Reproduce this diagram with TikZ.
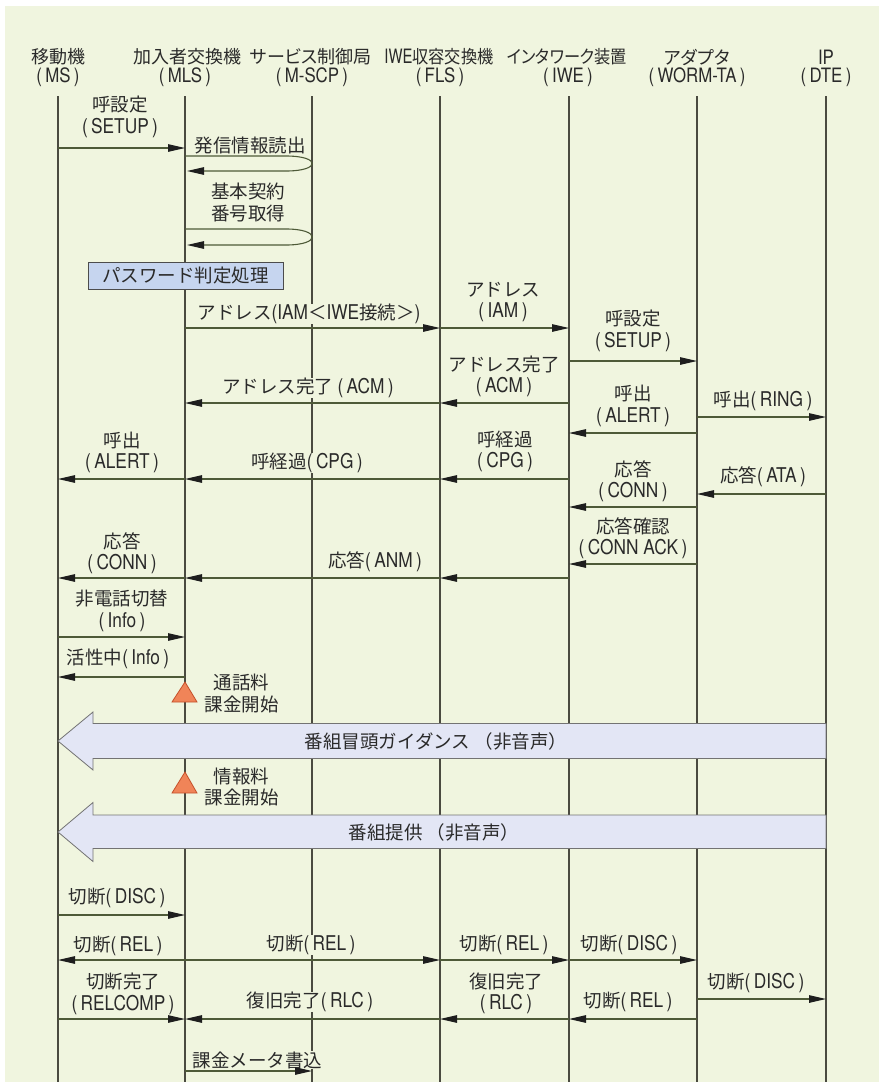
\documentclass[tikz,border=0pt]{standalone}
\usepackage{fontspec}
\setmainfont{Noto Sans CJK JP}
\newfontfamily\latf{TeX Gyre Heros}[Scale=1.1,FakeStretch=0.85]
\newfontfamily\latn{TeX Gyre Heros}[Scale=1.1,FakeStretch=0.75]
\newfontfamily\jpprop{Noto Sans CJK JP}[RawFeature=+palt]
\newfontfamily\jpnarrow{Noto Sans CJK JP}[FakeStretch=0.9,RawFeature=+palt]
\newcommand\lt[1]{{\latf #1}}
\newcommand\pa[1]{{\latf (\,#1\,)}}
\usetikzlibrary{arrows.meta}
\definecolor{bg}{HTML}{F0F5DF}
\definecolor{txt}{HTML}{2A2A2A}
\definecolor{lifec}{HTML}{4A4A40}
\definecolor{msgc}{HTML}{4E5A38}
\definecolor{headc}{HTML}{1E1E1E}
\definecolor{boxfill}{HTML}{C6D5EF}
\definecolor{bigfill}{HTML}{E3E6F5}
\definecolor{trifill}{HTML}{F08458}
\definecolor{tridraw}{HTML}{C4502A}
\begin{document}
\begin{tikzpicture}[x=1pt,y=-1pt,
  lbl/.style={font=\fontsize{18.5}{21.5}\selectfont, text=txt, fill=bg, inner sep=0.5pt, align=center},
  hdr/.style={font=\fontsize{18}{21}\selectfont, text=txt, inner sep=0.5pt},
  life/.style={draw=lifec, line width=1.1pt},
  msg/.style={draw=msgc, line width=1.1pt, -{Triangle[length=17pt,width=7.5pt,color=headc]}},
  bigarrow/.style={draw=black!55, line width=0.8pt, fill=bigfill},
  charge/.style={draw=tridraw, line width=0.8pt, fill=trifill},
  procbox/.style={draw=black!70, line width=1pt, fill=boxfill},
]
\useasboundingbox (0,0) rectangle (879,1085);
\fill[white] (0,0) rectangle (879,1085);
\fill[bg] (5,6) rectangle (879,1082);

% lifeline x positions
\coordinate (xMS) at (58,0);
\coordinate (xMLS) at (185,0);
\coordinate (xSCP) at (312,0);
\coordinate (xFLS) at (440,0);
\coordinate (xIWE) at (569,0);
\coordinate (xWTA) at (697,0);
\coordinate (xDTE) at (826,0);

% headers
\node[hdr] (h1a) at (58,57) {移動機};
\node[hdr] (h1b) at (58,77) {\pa{MS}};
\node[hdr] (h2a) at (187,57) {加入者交換機};
\node[hdr] (h2b) at (185,77) {\pa{MLS}};
\node[hdr] (h3a) at (311,57) {\jpprop サービス制御局};
\node[hdr] (h3b) at (312,77) {\pa{M-SCP}};
\node[hdr] (h4a) at (439,57) {{\latn IWE}\jpnarrow 収容交換機};
\node[hdr] (h4b) at (440,77) {\pa{FLS}};
\node[hdr] (h5a) at (567,57) {\jpnarrow インタワーク装置};
\node[hdr] (h5b) at (568,77) {\pa{IWE}};
\node[hdr] (h6a) at (697,57) {\jpprop アダプタ};
\node[hdr] (h6b) at (697,77) {\pa{WORM-TA}};
\node[hdr] (h7a) at (826,57) {\lt{IP}};
\node[hdr] (h7b) at (826,77) {\pa{DTE}};

% lifelines
\foreach \c in {xMS,xMLS,xSCP,xFLS,xIWE,xWTA,xDTE}
  \draw[life] (\c |- 0,96) -- (\c |- 0,1082);

% labels
\node[lbl] (m1) at (120,117) {呼設定\\\pa{SETUP}};
\node[lbl, anchor=west] (m2) at (194,146) {発信情報読出};
\node[lbl] (m3) at (248,202.5) {基本契約\\番号取得};
\node[lbl] (m5) at (309,314) {アドレス\lt{(IAM}＜\lt{IWE}接続＞\lt{)}};
\node[lbl] (m6) at (503,302) {アドレス\\\pa{IAM}};
\node[lbl] (m7) at (633,331) {呼設定\\\pa{SETUP}};
\node[lbl] (m8) at (504,376.5) {アドレス完了\\\pa{ACM}};
\node[lbl] (m9) at (308,388) {アドレス完了 \pa{ACM}};
\node[lbl] (m10) at (633,406) {呼出\\\pa{ALERT}};
\node[lbl] (m11) at (763,400.5) {呼出\pa{RING}};
\node[lbl] (m12) at (505,451.5) {呼経過\\\pa{CPG}};
\node[lbl] (m13) at (307,463) {呼経過\pa{CPG}};
\node[lbl] (m14) at (122,452.5) {呼出\\\pa{ALERT}};
\node[lbl] (m15) at (633,481) {応答\\\pa{CONN}};
\node[lbl] (m16) at (763,477) {応答\pa{ATA}};
\node[lbl] (m17) at (633,538) {応答確認\\\pa{CONN ACK}};
\node[lbl] (m18) at (375,562) {応答\pa{ANM}};
\node[lbl] (m19) at (122,553) {応答\\\pa{CONN}};
\node[lbl] (m20) at (122,611) {非電話切替\\\pa{Info}};
\node[lbl] (m21) at (118,659) {活性中\pa{Info}};
\node[lbl] (m25) at (117,898) {切断\pa{DISC}};
\node[lbl] (m26a) at (118,946) {切断\pa{REL}};
\node[lbl] (m26b) at (311,945) {切断\pa{REL}};
\node[lbl] (m26c) at (504,945) {切断\pa{REL}};
\node[lbl] (m26d) at (629,945) {切断\pa{DISC}};
\node[lbl] (m27a) at (123,994) {切断完了\\\pa{RELCOMP}};
\node[lbl] (m27b) at (310,1002) {復旧完了\pa{RLC}};
\node[lbl] (m27c) at (506,993.5) {復旧完了\\\pa{RLC}};
\node[lbl] (m27d) at (628,1002) {切断\pa{REL}};
\node[lbl] (m27e) at (756,983) {切断\pa{DISC}};
\node[lbl, anchor=west] (m28) at (192,1060) {課金メータ書込};

% password box
\node[procbox, font=\fontsize{18.5}{21}\selectfont, text=txt, minimum width=195pt, minimum height=27pt, inner sep=0pt] (pw) at (185.5,275.5) {パスワード判定処理};

% messages
\draw[msg] (xMS |- 0,148) -- (xMLS |- 0,148);
\draw[msg] (xMLS |- 0,156) -- (286,156) .. controls (321,156) and (321,171) .. (286,171) -- (187,171);
\draw[msg] (xMLS |- 0,229) -- (286,229) .. controls (321,229) and (321,245) .. (286,245) -- (187,245);
\draw[msg] (xMLS |- 0,328) -- (xFLS |- 0,328);
\draw[msg] (xFLS |- 0,328) -- (xIWE |- 0,328);
\draw[msg] (xIWE |- 0,361) -- (xWTA |- 0,361);
\draw[msg] (xIWE |- 0,403) -- (xFLS |- 0,403);
\draw[msg] (xFLS |- 0,403) -- (xMLS |- 0,403);
\draw[msg] (xWTA |- 0,417) -- (xDTE |- 0,417);
\draw[msg] (xWTA |- 0,433) -- (xIWE |- 0,433);
\draw[msg] (xIWE |- 0,479) -- (xFLS |- 0,479);
\draw[msg] (xFLS |- 0,479) -- (xMLS |- 0,479);
\draw[msg] (xMLS |- 0,479) -- (xMS |- 0,479);
\draw[msg] (xDTE |- 0,494) -- (xWTA |- 0,494);
\draw[msg] (xWTA |- 0,507) -- (xIWE |- 0,507);
\draw[msg] (xWTA |- 0,564) -- (xIWE |- 0,564);
\draw[msg] (xIWE |- 0,578) -- (xFLS |- 0,578);
\draw[msg] (xFLS |- 0,578) -- (xMLS |- 0,578);
\draw[msg] (xMLS |- 0,578) -- (xMS |- 0,578);
\draw[msg] (xMS |- 0,637) -- (xMLS |- 0,637);
\draw[msg] (xMLS |- 0,677) -- (xMS |- 0,677);
\draw[msg] (xMS |- 0,915) -- (xMLS |- 0,915);
\draw[msg] (xMLS |- 0,960) -- (xMS |- 0,960);
\draw[msg] (xMLS |- 0,960) -- (xFLS |- 0,960);
\draw[msg] (xFLS |- 0,960) -- (xIWE |- 0,960);
\draw[msg] (xIWE |- 0,960) -- (xWTA |- 0,960);
\draw[msg] (xMS |- 0,1019) -- (xMLS |- 0,1019);
\draw[msg] (xFLS |- 0,1019) -- (xMLS |- 0,1019);
\draw[msg] (xIWE |- 0,1019) -- (xFLS |- 0,1019);
\draw[msg] (xWTA |- 0,1019) -- (xIWE |- 0,1019);
\draw[msg] (xWTA |- 0,999) -- (xDTE |- 0,999);
\draw[msg] (xMLS |- 0,1071) -- (xSCP |- 0,1071);

% charging triangles
\draw[charge] (xMLS |- 0,682) -- (197,702) -- (172,702) -- cycle;
\node[lbl, fill=none, anchor=west] (c1) at (204,693.5) {通話料\\課金開始};
\draw[charge] (xMLS |- 0,772) -- (197,793) -- (172,793) -- cycle;
\node[lbl, fill=none, anchor=west] (c2) at (204,787) {情報料\\課金開始};

% big arrows
\draw[bigarrow] (xDTE |- 0,723.5) -- (93,723.5) -- (93,712) -- (xMS |- 0,741) -- (93,770) -- (93,758.5) -- (xDTE |- 0,758.5) -- cycle;
\node[lbl, fill=none] (b1) at (436,741) {番組冒頭ガイダンス （非音声）};
\draw[bigarrow] (xDTE |- 0,815) -- (93,815) -- (93,802.5) -- (xMS |- 0,832) -- (93,861.5) -- (93,848.5) -- (xDTE |- 0,848.5) -- cycle;
\node[lbl, fill=none] (b2) at (434,832) {番組提供 （非音声）};
\end{tikzpicture}
\end{document}
